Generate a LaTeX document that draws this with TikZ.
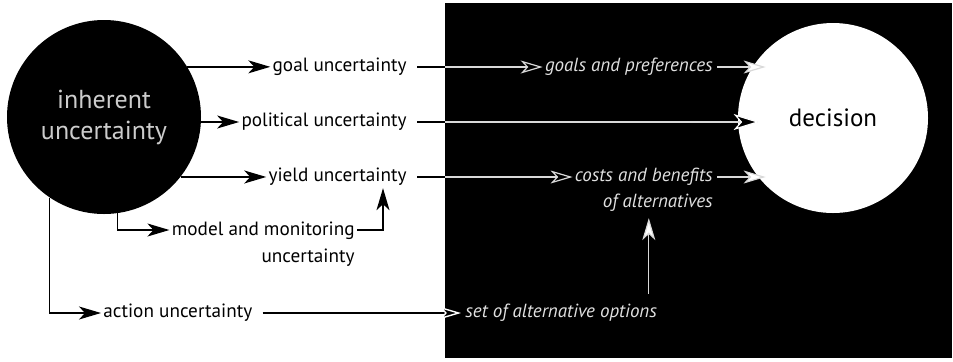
\documentclass[tikz,border=0pt]{standalone}
\usepackage{fontspec}
\setmainfont{PT Sans}
\usetikzlibrary{arrows.meta,calc}
\begin{document}
\begin{tikzpicture}[x=0.5pt,y=-0.5pt,
  lbl/.style={inner sep=1pt,font=\fontsize{9.6}{13.5}\selectfont},
  wlbl/.style={lbl,text=white!88!black,font=\fontsize{9.5}{13}\selectfont\itshape},
  arr/.style={draw=black,line width=0.7pt,-{Stealth[length=11pt,width=6.5pt,inset=3pt]}},
  wline/.style={draw=white!85!black,line width=0.6pt},
  warr/.style={wline,-{Stealth[length=11pt,width=6.5pt,inset=3pt,fill=white]}},
  oarr/.style={wline,-{Stealth[length=11pt,width=6.5pt,inset=3pt,open]}},
  barr/.style={draw=black,line width=0.7pt,-{Stealth[length=11pt,width=6.5pt,inset=3pt,fill=black,color=white]}},
  bigcirc/.style={circle,minimum size=#1,inner sep=0pt}
]
\useasboundingbox (0,0) rectangle (953,361);
\fill[white] (0,0) rectangle (953,361);
% dark panel
\node[fill=black,minimum width=253.5pt,minimum height=177.5pt,inner sep=0pt,anchor=north west] (panel) at (445,3) {};

% circles
\node[bigcirc=97pt,fill=black,text=white!80!black,align=center,font=\fontsize{13}{15.5}\selectfont] (inh) at (104,117) {inherent\\uncertainty};
\node[bigcirc=95pt,fill=white,text=black,font=\fontsize{12.5}{15}\selectfont] (dec) at (833,118) {decision};

% left labels
\node[lbl,anchor=east] (goalu) at (409,67) {goal uncertainty};
\node[lbl,anchor=east] (polu) at (409,122) {political uncertainty};
\node[lbl,anchor=east] (yieldu) at (409,177) {yield uncertainty};
\node[lbl,anchor=east,align=right] (modu) at (357,244) {model and monitoring\\uncertainty};
\node[lbl,anchor=west] (actu) at (101,313) {action uncertainty};

% right labels
\node[wlbl,anchor=east] (goalp) at (715,67) {goals and preferences};
\node[wlbl,anchor=east,align=right] (costs) at (715,190) {costs and benefits\\of alternatives};
\node[wlbl,anchor=west] (setopt) at (463,313) {set of alternative options};

% edges of panel
\coordinate (eg) at (panel.west |- goalu);
\coordinate (ep) at (panel.west |- polu);
\coordinate (ey) at (panel.west |- yieldu);

% connectors from inherent uncertainty
\draw[arr] (inh.31) -- (inh.31 -| goalu.west);
\draw[arr] (inh.east |- polu) -- (polu.west);
\draw[arr] (inh.-38) -- (inh.-38 -| yieldu.west);
\draw[arr] (inh.-82) |- ([yshift=7pt]modu.west);
\draw[arr] (inh.-124) |- (actu.west);
\draw[arr] ([yshift=7pt]modu.east) -| ([xshift=-13pt]yieldu.south east);

% to the panel
\draw[draw=black,line width=0.7pt] (goalu.east) ++(4pt,0) -- (eg);
\draw[oarr] (eg) -- (goalp.west);
\draw[draw=black,line width=0.7pt] (polu.east) ++(4pt,0) -- (ep);
\draw[wline,-{Stealth[length=13pt,width=8pt,inset=3.5pt,fill=black,color=white]},shorten >=-11pt] (ep) -- (ep -| dec.west);
\draw[draw=black,line width=0.7pt] (yieldu.east) ++(4pt,0) -- (ey);
\draw[oarr] (ey) -- ([yshift=6.5pt]costs.west);
\draw[barr,shorten >=1pt] (actu.east) ++(4pt,0) -- (setopt.west);

% to decision
\draw[warr,shorten >=-14pt] (goalp.east) ++(1pt,0) -- (goalp.east -| dec.west);
\draw[warr,shorten >=-14pt] ([yshift=6.5pt]costs.east) ++(1pt,0) -- ([yshift=6.5pt]costs.east -| dec.west);
\draw[warr] ([xshift=2.5pt,yshift=4pt]setopt.north -| costs.south) -- ([xshift=2.5pt,yshift=-2pt]costs.south);
\end{tikzpicture}
\end{document}
